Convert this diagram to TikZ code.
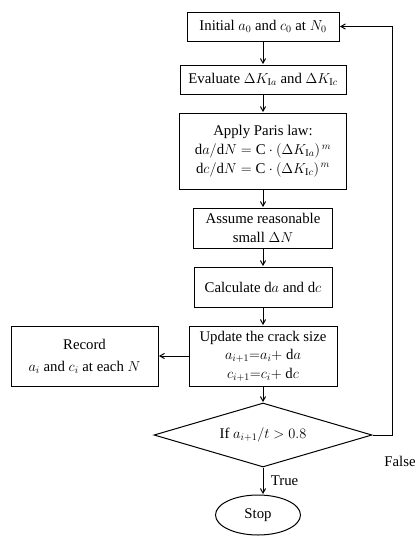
\documentclass[tikz,border=0pt]{standalone}
\usepackage{amsmath}
\usepackage{fontspec}
\setmainfont{Liberation Serif}
\usetikzlibrary{calc}
\usetikzlibrary{arrows}
\usetikzlibrary{shapes.geometric}

\tikzset{
  box/.style={draw, rectangle, align=center, inner sep=2pt, line width=1pt},
  flow/.style={->, >=angle 60, line width=1pt, shorten >=0.5pt},
}

\begin{document}
\begin{tikzpicture}[x=1pt, y=-1pt, font=\fontsize{14.8}{18.8}\selectfont]
\useasboundingbox (0,0) rectangle (419,550);

\coordinate (C1) at (263,26.5); \coordinate (C2) at (263,79.5);
\coordinate (C3) at (263,151); \coordinate (C4) at (263,228);
\coordinate (C5) at (263,287); \coordinate (C6) at (263,356);
\coordinate (C7) at (84.5,356); \coordinate (C8) at (263,435);
\coordinate (C9) at (258,515);

\node (INIT) at (C1) [box, minimum width=152, minimum height=29] {Initial $a_0$ and $c_0$ at $N_0$};
\node (EVAL) at (C2) [box, minimum width=166, minimum height=29] {Evaluate $\Delta K_{\mathrm{I}a}$ and $\Delta K_{\mathrm{I}c}$};
\node (PARIS) at (C3) [box, minimum width=167, minimum height=76] {Apply Paris law:\\ $\mathrm{d}a/\mathrm{d}N=\mathrm{C}\cdot(\Delta K_{\mathrm{I}a})^{\,m}$\\ $\mathrm{d}c/\mathrm{d}N=\mathrm{C}\cdot(\Delta K_{\mathrm{I}c})^{\,m}$};
\node (DN) at (C4) [box, minimum width=139, minimum height=40] {Assume reasonable\\ small $\Delta N$};
\node (CALC) at (C5) [box, minimum width=138, minimum height=40] {Calculate $\mathrm{d}a$ and $\mathrm{d}c$};
\node (UPD) at (C6) [box, minimum width=148, minimum height=60, font=\fontsize{14.8}{18.5}\selectfont] {Update the crack size\\ $a_{i+1}{=}a_i{+}\ \mathrm{d}a$\\ $c_{i+1}{=}c_i{+}\ \mathrm{d}c$};
\node (REC) at (C7) [box, minimum width=147, minimum height=60, font=\fontsize{14.8}{22}\selectfont] {Record\\ $a_i$ and $c_i$ at each $N$};
\node (DEC) at (C8) [draw, diamond, aspect=3.4, inner sep=0pt, line width=1pt, minimum width=218, minimum height=64] {If $a_{i+1}/t>0.8$};
\node (STOP) at (C9) [draw, ellipse, inner sep=0pt, line width=1pt, minimum width=85, minimum height=40] {Stop};

\coordinate (FB) at (392,435);
\coordinate (FL) at (400,461);
\draw [flow] (INIT) -- (EVAL);
\draw [flow] (EVAL) -- (PARIS);
\draw [flow] (PARIS) -- (DN);
\draw [flow] (DN) -- (CALC);
\draw [flow] (CALC) -- (UPD);
\draw [flow] (UPD) -- (REC);
\draw [flow] (UPD) -- (DEC);
\draw [flow] (DEC.south) -- (DEC.south |- STOP.north) node [midway, right=4] {True};
\draw [flow] (DEC.east) -- (FB) |- (INIT.east);
\node (FALSE) at (FL) {False};

\end{tikzpicture}
\end{document}
